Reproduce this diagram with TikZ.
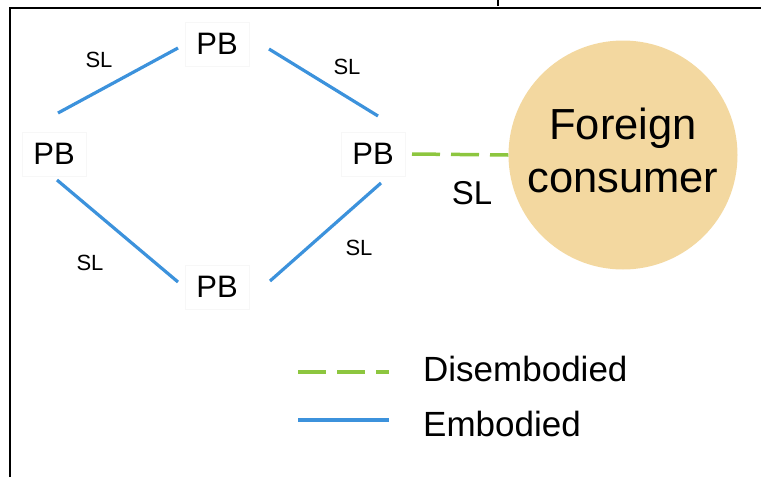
\documentclass[tikz,border=0pt]{standalone}
\usepackage{fontspec}
\setmainfont{Liberation Sans}
\usetikzlibrary{calc}
\definecolor{embblue}{RGB}{60,146,220}
\definecolor{disgreen}{RGB}{141,198,63}
\definecolor{consfill}{RGB}{243,216,160}
\tikzset{
  pb/.style={inner sep=0pt, minimum width=64pt, minimum height=44pt, draw=black!3, fill=white, font=\fontsize{31}{31}\selectfont},
  sl/.style={inner sep=0pt, font=\fontsize{22}{22}\selectfont},
  emb/.style={draw=embblue, line width=3.2pt},
  dis/.style={draw=disgreen, line width=3.5pt, dash pattern=on 28pt off 11pt},
  legtext/.style={inner sep=0pt, anchor=west, font=\fontsize{35}{35}\selectfont},
  frame/.style={draw=black, line width=1.4pt}
}
\begin{document}
\begin{tikzpicture}[x=1pt,y=-1pt]
\useasboundingbox (0,0) rectangle (761,477);
% frame
\draw[frame] (10,477) -- (10,8) -- (761,8);
\draw[line width=1.4pt] (498,0) -- (498,6);
% nodes
\node[pb] (t) at (217,44) {PB};
\node[pb] (l) at (54,154) {PB};
\node[pb] (r) at (373,154) {PB};
\node[pb] (b) at (217,287) {PB};
\node[circle, fill=consfill, minimum size=229pt, inner sep=0pt] (fc) at (623,155) {};
\node[inner sep=0pt, align=center, font=\fontsize{43.5}{53}\selectfont] (fct) at ($(fc)+(0,-5)$) {Foreign\\consumer};
% embodied links
\draw[emb] ($(l)+(4,-41)$) -- ($(t)+(-39,4)$);
\draw[emb] ($(t)+(52,5)$) -- ($(r)+(5,-38)$);
\draw[emb] ($(l)+(3,26)$) -- ($(b)+(-39,-5)$);
\draw[emb] ($(b)+(53,-6)$) -- ($(r)+(8,29)$);
% disembodied link
\draw[dis] ($(r)+(39,0)$) -- (fc.west);
% labels
\node[sl] (sl1) at (99,60) {SL};
\node[sl] (sl2) at (347,67) {SL};
\node[sl] (sl3) at (90,263) {SL};
\node[sl] (sl4) at (359,248) {SL};
\node[inner sep=0pt, font=\fontsize{33}{33}\selectfont] (sl5) at (472,193) {SL};
% legend
\coordinate (lg1a) at (298,372);
\coordinate (lg1b) at (389,372);
\coordinate (lg2a) at (298,420);
\coordinate (lg2b) at (389,420);
\draw[dis] (lg1a) -- (lg1b);
\draw[emb] (lg2a) -- (lg2b);
\node[legtext] (ld) at (423,369) {Disembodied};
\node[legtext] (le) at (423,424) {Embodied};
\end{tikzpicture}
\end{document}
